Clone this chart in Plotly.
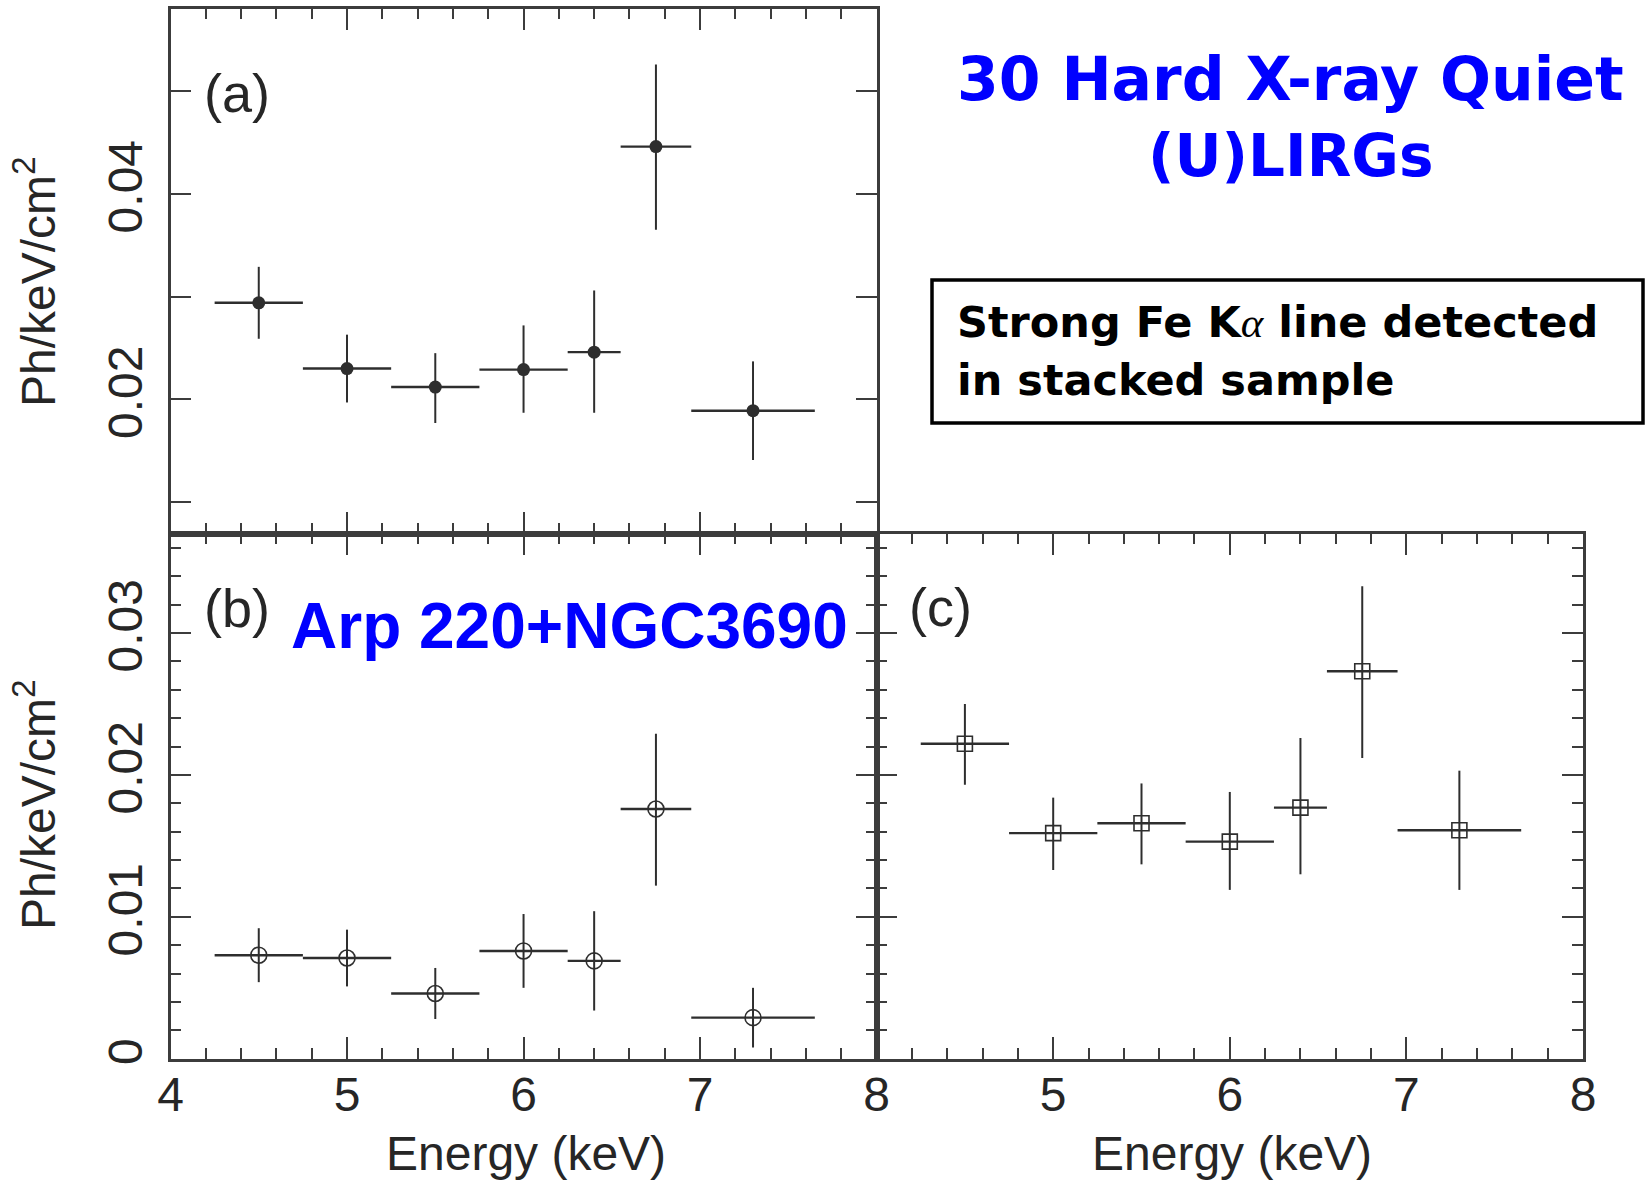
import numpy as np
import plotly.graph_objects as go

# Energy bins (keV): centres and half-widths
energy = [4.5, 5.0, 5.5, 6.0, 6.4, 6.75, 7.3]
half_width = [0.25, 0.25, 0.25, 0.25, 0.15, 0.2, 0.35]

# (a) stacked hard X-ray quiet (U)LIRGs
flux_a = [0.0294, 0.0230, 0.0212, 0.0229, 0.0246, 0.0446, 0.0189]
upper_a = [0.0329, 0.0263, 0.0245, 0.0272, 0.0306, 0.0526, 0.0237]
lower_a = [0.0259, 0.0197, 0.0177, 0.0187, 0.0187, 0.0365, 0.0141]

# (b) Arp 220 + NGC3690
flux_b = [0.0073, 0.0071, 0.0046, 0.0076, 0.0069, 0.0176, 0.0029]
upper_b = [0.0092, 0.0091, 0.0064, 0.0102, 0.0104, 0.0229, 0.0050]
lower_b = [0.0054, 0.0051, 0.0028, 0.0050, 0.0034, 0.0122, 0.0008]

# (c)
flux_c = [0.0222, 0.0159, 0.0166, 0.0153, 0.0177, 0.0273, 0.0161]
upper_c = [0.0250, 0.0184, 0.0194, 0.0188, 0.0226, 0.0333, 0.0203]
lower_c = [0.0193, 0.0133, 0.0137, 0.0119, 0.0130, 0.0212, 0.0119]

x_ticks = [4, 5, 6, 7, 8]
y_ticks_a = [0.01, 0.02, 0.03, 0.04, 0.05]
y_labels_a = ["", "0.02", "", "0.04", ""]
y_ticks_bc = [0, 0.01, 0.02, 0.03]
y_labels_bc = ["0", "0.01", "0.02", "0.03"]

W, H = 1651, 1181
FONT = "Liberation Sans, Arial, Helvetica, sans-serif"
TXT = "#262626"
AXC = "#3c3c3c"
ERRC = "#2e2e2e"


def px(x):
    return x / W


def py(y):
    return 1 - y / H


left, mid, right = 170.5, 876.6, 1583.0
top, middle, bottom = 8.6, 533.5, 1058.8

fig = go.Figure()


def add_panel(xa, ya, flux, up, lo, symbol, size, filled):
    f = np.array(flux)
    err_hi = np.array(up) - f
    err_lo = f - np.array(lo)
    marker = dict(symbol=symbol, size=size, color=ERRC,
                  line=dict(color=ERRC, width=1.6 if not filled else 0))
    fig.add_trace(go.Scatter(
        x=energy, y=flux, mode="markers", xaxis=xa, yaxis=ya,
        marker=marker, showlegend=False,
        error_x=dict(type="data", array=half_width, symmetric=True,
                     width=0, thickness=2.4, color=ERRC),
        error_y=dict(type="data", array=err_hi, arrayminus=err_lo,
                     symmetric=False, width=0, thickness=2.0, color=ERRC),
    ))


add_panel("x", "y", flux_a, upper_a, lower_a, "circle", 13, True)
add_panel("x2", "y2", flux_b, upper_b, lower_b, "circle-open", 16, False)
add_panel("x3", "y3", flux_c, upper_c, lower_c, "square-open", 15, False)

tickfont = dict(family=FONT, size=48, color=TXT)

common_x = dict(range=[4, 8], tickmode="array", tickvals=x_ticks,
                ticks="inside", ticklen=22, tickwidth=2.4, tickcolor=AXC,
                minor=dict(dtick=0.2, tick0=4, ticklen=11, tickwidth=2.2,
                           tickcolor=AXC, ticks="inside", showgrid=False),
                showline=True, linecolor=AXC, linewidth=2.6, mirror="ticks",
                showgrid=False, zeroline=False, tickfont=tickfont,
                automargin=False, ticklabelstandoff=-8)

common_y = dict(ticks="inside", ticklen=21, tickwidth=2.4, tickcolor=AXC,
                showline=True, linecolor=AXC, linewidth=2.6, mirror="ticks",
                showgrid=False, zeroline=False, tickfont=tickfont,
                tickangle=-90, tickmode="array", automargin=False,
                ticklabelstandoff=7)

fig.update_layout(
    width=W, height=H,
    margin=dict(l=0, r=0, t=0, b=0, autoexpand=False),
    paper_bgcolor="white", plot_bgcolor="white",
    xaxis=dict(domain=[px(left), px(mid)], anchor="y",
               showticklabels=False, **common_x),
    yaxis=dict(domain=[py(middle), py(top)], anchor="x",
               range=[0.00695, 0.05803], tickvals=y_ticks_a,
               ticktext=y_labels_a, **common_y),
    xaxis2=dict(domain=[px(left), px(mid)], anchor="y2",
                ticktext=[str(v) for v in x_ticks], **common_x),
    yaxis2=dict(domain=[py(bottom), py(middle)], anchor="x2",
                range=[0, 0.03701], tickvals=y_ticks_bc, ticktext=y_labels_bc,
                minor=dict(dtick=0.002, tick0=0, ticklen=11, tickwidth=2.2,
                           tickcolor=AXC, ticks="inside", showgrid=False),
                **common_y),
    xaxis3=dict(domain=[px(mid), px(right)], anchor="y3",
                ticktext=[""] + [str(v) for v in x_ticks[1:]], **common_x),
    yaxis3=dict(domain=[py(bottom), py(middle)], anchor="x3",
                range=[0, 0.03701], tickvals=y_ticks_bc,
                ticktext=y_labels_bc, showticklabels=False,
                minor=dict(dtick=0.002, tick0=0, ticklen=11, tickwidth=2.2,
                           tickcolor=AXC, ticks="inside", showgrid=False),
                **common_y),
)

annotations = []


def label(text, x, y, size, color=TXT, family=FONT, angle=0, xanchor="center"):
    annotations.append(dict(text=text, x=px(x), y=py(y), xref="paper", yref="paper",
                            showarrow=False, xanchor=xanchor, yanchor="middle",
                            textangle=angle,
                            font=dict(family=family, size=size, color=color)))


# panel letters
label("(a)", 237, 93, 54)
label("(b)", 237, 608, 54)
label("(c)", 940, 607, 54)

# axis titles
ytitle = "Ph/keV/cm<sup>2</sup>"
label(ytitle, 35, 282, 48, angle=-90)
label(ytitle, 35, 805, 48, angle=-90)
label("Energy (keV)", 526, 1153, 48)
label("Energy (keV)", 1232, 1153, 48)

# sample names
BLUE = "#0000ff"
label("<b>Arp 220+NGC3690</b>", 569, 626, 64, color=BLUE)
COMIC = "DejaVu Sans, Verdana, sans-serif"
label("<b>30 Hard X-ray Quiet</b>", 1290, 79, 60, color=BLUE, family=COMIC)
label("<b>(U)LIRGs</b>", 1290, 156, 58, color=BLUE, family=COMIC)

# boxed note
label("<b>Strong Fe K</b><span style='font-family:Liberation Serif'><i>α</i></span><b> line detected</b>",
      955, 322, 43, color="#000000", family=COMIC, xanchor="left")
label("<b>in stacked sample</b>", 955, 380, 43, color="#000000", family=COMIC, xanchor="left")

fig.update_layout(annotations=annotations)
fig.add_shape(type="rect", xref="paper", yref="paper",
              x0=px(932), x1=px(1643), y0=py(423), y1=py(280),
              line=dict(color="#000000", width=3.5), fillcolor="rgba(0,0,0,0)")

fig.write_html("out.html")
